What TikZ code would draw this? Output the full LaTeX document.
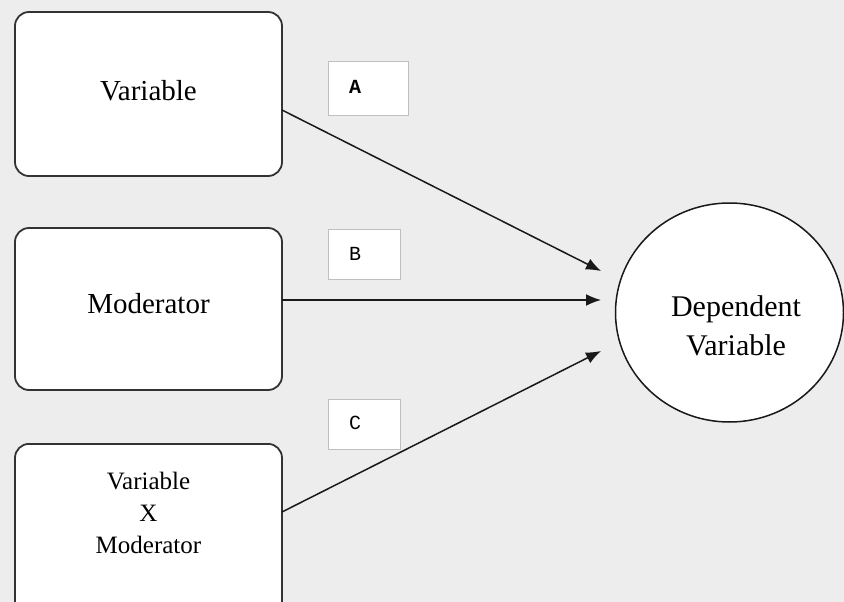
\documentclass[tikz,border=0pt]{standalone}
\usepackage{fontspec}
\setmainfont{Liberation Serif}
\setmonofont{Liberation Mono}
\usetikzlibrary{arrows.meta,shapes.geometric}
\begin{document}
\begin{tikzpicture}[x=1pt,y=-1pt,
  varbox/.style={draw=black!80,line width=1.8pt,fill=white,rounded corners=14pt,align=center,font=\fontsize{29}{34}\selectfont},
  lblbox/.style={draw=black!25,line width=1pt,fill=white,anchor=north west,inner sep=0pt},
  lbltext/.style={font=\ttfamily\fontsize{20}{22}\selectfont},
  conn/.style={draw=black!90,line width=1.5pt,-{Latex[length=15pt,width=12pt]}}]
\useasboundingbox (0,0) rectangle (844,602);
\clip (0,0) rectangle (844,602);
\fill[black!7] (0,0) rectangle (844,602);
\node[varbox,minimum width=267pt,minimum height=164pt] (v) at (148.5,94) {};
\node[font=\fontsize{29}{34}\selectfont] (vt) at (148.5,91) {Variable};
\node[varbox,minimum width=267pt,minimum height=162pt] (m) at (148.5,309) {};
\node[font=\fontsize{29}{34}\selectfont] (mt) at (148.5,304) {Moderator};
\node[varbox,minimum width=267pt,minimum height=200pt,anchor=north] (vm) at (148.5,443) {};
\node[align=center,font=\fontsize{25}{32}\selectfont] (vmt) at (148.5,513) {Variable\\X\\Moderator};
\node[draw=black!90,line width=1.5pt,fill=white,ellipse,minimum width=228pt,minimum height=219pt] (dv) at (729.5,312.5) {};
\node[align=center,font=\fontsize{30}{39}\selectfont] (dvt) at (736,326) {Dependent\\Variable};
\node[lblbox,minimum width=80pt,minimum height=54pt] (a) at (328,61) {};
\node[lblbox,minimum width=72pt,minimum height=50pt] (b) at (328,229) {};
\node[lblbox,minimum width=72pt,minimum height=50pt] (c) at (328,399) {};
\node[lbltext,font=\ttfamily\bfseries\fontsize{20}{22}\selectfont] (at) at (355,87) {A};
\node[lbltext] (bt) at (355,254) {B};
\node[lbltext] (ct) at (355,423) {C};
\coordinate (ta) at (601,271);
\coordinate (tb) at (601,300);
\coordinate (tc) at (601,351);
\coordinate (sa) at (282,110);
\coordinate (sb) at (282,300);
\coordinate (sc) at (282,512);
\draw[conn] (sa) -- (ta);
\draw[conn] (sb) -- (tb);
\draw[conn] (sc) -- (tc);
\end{tikzpicture}
\end{document}
